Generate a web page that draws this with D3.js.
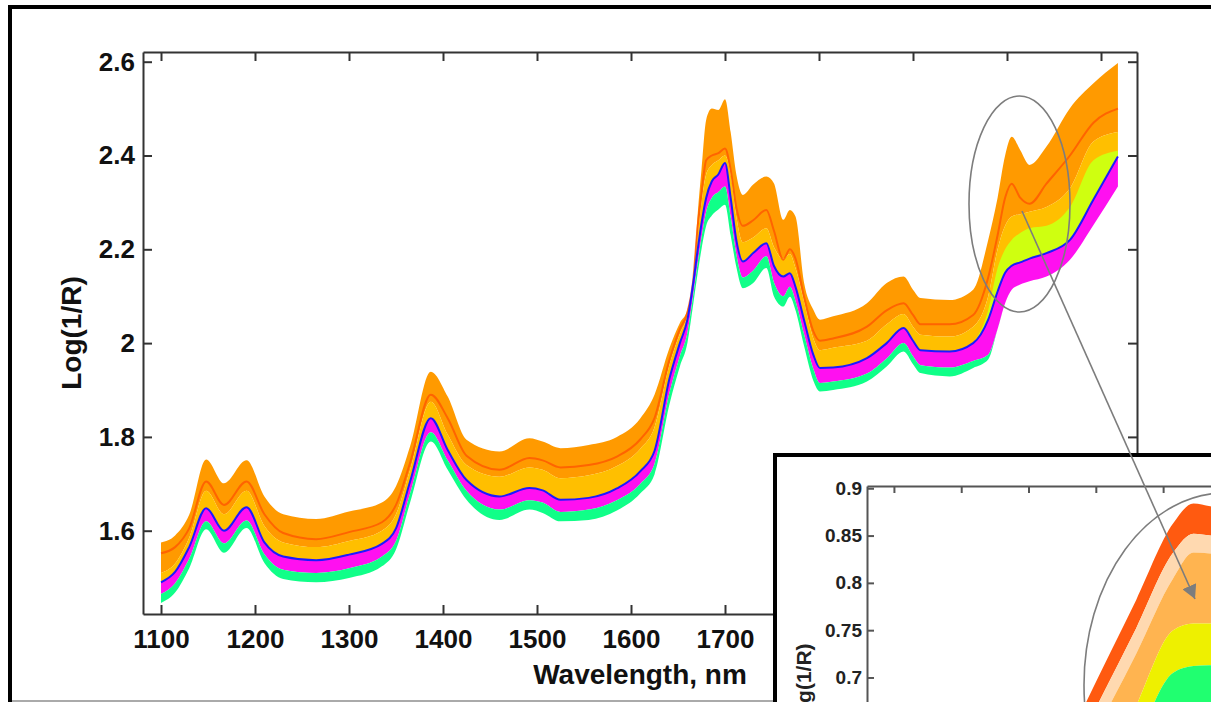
<!DOCTYPE html>
<html>
<head>
<meta charset="utf-8">
<script src="https://cdn.jsdelivr.net/npm/d3@7"></script>
<style>
body{margin:0;background:#fff;}
svg{display:block;font-family:"Liberation Sans",Arial,Helvetica,sans-serif;}
</style>
</head>
<body>
<div class="canvas"></div>
<script>
const wavelengths = [1100,1115,1130,1148,1167,1191,1210,1230,1265,1300,1335,1350,1365,1387,1405,1425,1460,1492,1506,1525,1555,1585,1610,1625,1641,1652,1660,1666,1671,1675,1680,1686,1693,1700,1706,1712,1719,1730,1744,1752,1762,1769,1775,1784,1794,1801,1815,1851,1872,1890,1900,1908,1939,1964,1980,1990,1998,2005,2014,2024,2042,2067,2092,2118];
// upper edge of the orange spectra
const topEdge = [1.575,1.590,1.634,1.752,1.701,1.750,1.673,1.635,1.625,1.641,
	1.660,1.695,1.780,1.939,1.886,1.794,1.769,1.797,1.790,1.776,
	1.783,1.800,1.840,1.890,1.990,2.043,2.071,2.135,2.277,2.370,
	2.476,2.500,2.497,2.520,2.450,2.360,2.316,2.338,2.355,2.341,
	2.263,2.284,2.270,2.130,2.071,2.050,2.057,2.085,2.128,2.142,
	2.114,2.096,2.092,2.114,2.220,2.310,2.400,2.440,2.412,2.380,
	2.419,2.501,2.554,2.597];
// red-orange spectrum running inside the orange group
const redLine = [1.552,1.565,1.605,1.705,1.655,1.705,1.635,1.595,1.582,1.597,
	1.618,1.655,1.745,1.890,1.840,1.760,1.730,1.755,1.750,1.735,
	1.740,1.758,1.795,1.840,1.965,2.030,2.065,2.130,2.250,2.320,
	2.390,2.400,2.405,2.415,2.370,2.290,2.250,2.262,2.284,2.240,
	2.178,2.200,2.180,2.100,2.025,2.005,2.010,2.035,2.070,2.085,
	2.060,2.040,2.040,2.060,2.140,2.230,2.310,2.340,2.310,2.297,
	2.340,2.400,2.470,2.500];
// lower edge of the orange group (gold spectra below)
const orangeLow = [1.510,1.530,1.585,1.685,1.635,1.685,1.610,1.575,1.565,1.578,
	1.600,1.635,1.730,1.875,1.805,1.740,1.715,1.735,1.730,1.712,
	1.718,1.738,1.775,1.820,1.955,2.020,2.060,2.130,2.230,2.300,
	2.360,2.380,2.390,2.400,2.360,2.270,2.215,2.225,2.245,2.205,
	2.180,2.190,2.160,2.090,2.010,1.985,1.990,2.005,2.040,2.062,
	2.035,2.018,2.014,2.035,2.100,2.200,2.250,2.270,2.275,2.280,
	2.290,2.330,2.430,2.450];
// blue spectrum = top of the magenta group
const blueLine = [1.490,1.512,1.565,1.648,1.600,1.650,1.575,1.545,1.537,1.549,
	1.572,1.605,1.705,1.840,1.772,1.708,1.673,1.691,1.686,1.666,
	1.670,1.690,1.727,1.770,1.925,2.000,2.050,2.125,2.200,2.255,
	2.310,2.345,2.360,2.384,2.310,2.220,2.174,2.192,2.213,2.165,
	2.142,2.149,2.120,2.050,1.975,1.947,1.948,1.968,2.000,2.032,
	2.005,1.985,1.982,2.000,2.050,2.110,2.150,2.165,2.172,2.180,
	2.192,2.220,2.306,2.398];
// bottom of the magenta group / top of the green group
const greenTop = [1.465,1.488,1.540,1.620,1.573,1.622,1.550,1.517,1.510,1.520,
	1.545,1.578,1.680,1.810,1.750,1.685,1.645,1.665,1.660,1.640,
	1.645,1.665,1.700,1.742,1.895,1.972,2.022,2.100,2.172,2.225,
	2.280,2.310,2.322,2.334,2.270,2.190,2.140,2.155,2.185,2.130,
	2.100,2.120,2.090,2.020,1.945,1.915,1.918,1.935,1.967,2.000,
	1.972,1.953,1.948,1.962,1.975,2.030,2.085,2.114,2.125,2.132,
	2.142,2.178,2.252,2.334];
// lowest spectrum
const bottomEdge = [1.446,1.468,1.520,1.603,1.553,1.606,1.531,1.497,1.490,1.499,
	1.524,1.560,1.660,1.790,1.730,1.666,1.623,1.645,1.638,1.620,
	1.623,1.643,1.680,1.720,1.870,1.950,2.000,2.080,2.150,2.200,
	2.250,2.272,2.285,2.295,2.230,2.163,2.117,2.128,2.160,2.100,
	2.078,2.099,2.070,1.995,1.920,1.897,1.900,1.918,1.950,1.982,
	1.955,1.936,1.929,1.947,1.965,2.030,2.085,2.114,2.125,2.132,
	2.142,2.178,2.252,2.334];
// yellow-green spectra that only split off past ~1960 nm
const chartNm = [1964,1980,1990,1998,2005,2014,2024,2042,2067,2092,2118];
const chartTop = [2.000,2.070,2.160,2.200,2.220,2.235,2.245,2.250,2.290,2.390,2.410];
const chartLow = [2.000,2.050,2.110,2.150,2.165,2.172,2.180,2.192,2.220,2.306,2.398];

const xTickValues = [1100,1200,1300,1400,1500,1600,1700,1800,1900,2000,2100];
const yTickValues = [1.6,1.8,2,2.2,2.4,2.6];

// inset (zoom on the 2005 nm peak)
const insetNm = [1999,2001,2001.7,2003.2,2004.3,2004.9,2005.4,2006];
const insetRedTop = [0.500,0.620,0.673,0.782,0.863,0.884,0.881,0.875];
const insetRedLow = [0.470,0.590,0.645,0.752,0.832,0.852,0.850,0.846];
const insetOrangeTop = [0.450,0.565,0.620,0.725,0.805,0.832,0.831,0.828];
const insetYellowTop = [0.380,0.490,0.550,0.670,0.750,0.757,0.757,0.755];
const insetGreenTop = [0.340,0.450,0.510,0.630,0.705,0.712,0.713,0.710];
const insetBottom = [0.280,0.380,0.430,0.530,0.620,0.640,0.640,0.640];
const insetXTicks = [1996,1998,2000,2002,2004,2006,2008,2010];
const insetYTicks = [0.9,0.85,0.8,0.75,0.7];

const W = 1211, H = 702;
const m = {l:143, t:52, r:1137, b:614};

var svg = d3.select('.canvas').append('svg')
	.attr('width',W)
	.attr('height',H);

var defs = svg.append('defs');
defs.append('clipPath').attr('id','mainClip')
	.append('rect').attr('x',m.l).attr('y',m.t).attr('width',m.r-m.l).attr('height',m.b-m.t);

// outer frame
svg.append('path')
	.attr('d',`M10,${H} L10,7 L${W},7`)
	.attr('fill','none').attr('stroke','#000').attr('stroke-width',4);

var x = d3.scaleLinear().domain([1080.85,2138.3]).range([m.l,m.r]);
var y = d3.scaleLinear().domain([1.4224,2.6207]).range([m.b,m.t]);

var rows = wavelengths.map((nm,i)=>({
	nm:nm, top:topEdge[i], red:redLine[i], oLow:orangeLow[i],
	blue:blueLine[i], gTop:greenTop[i], bot:bottomEdge[i]
}));
var chartRows = chartNm.map((nm,i)=>({nm:nm, hi:chartTop[i], lo:chartLow[i]}));

function band(xs,ys,hi,lo){
	return d3.area()
		.x(d=>xs(d.nm))
		.y0(d=>ys(d[lo]))
		.y1(d=>ys(d[hi]))
		.curve(d3.curveMonotoneX);
}
function edge(xs,ys,key){
	return d3.line()
		.x(d=>xs(d.nm))
		.y(d=>ys(d[key]))
		.curve(d3.curveMonotoneX);
}

var plot = svg.append('g').attr('clip-path','url(#mainClip)');
plot.append('path').datum(rows).attr('d',band(x,y,'top','oLow')).attr('fill','#ff9a00');
plot.append('path').datum(rows).attr('d',band(x,y,'oLow','blue')).attr('fill','#ffbf00');
plot.append('path').datum(chartRows).attr('d',band(x,y,'hi','lo')).attr('fill','#cfff10');
plot.append('path').datum(rows).attr('d',band(x,y,'blue','gTop')).attr('fill','#ff10f0');
plot.append('path').datum(rows).attr('d',band(x,y,'gTop','bot')).attr('fill','#10ff88');
plot.append('path').datum(rows).attr('d',edge(x,y,'red'))
	.attr('fill','none').attr('stroke','#ff5200').attr('stroke-width',2).attr('opacity',0.75);
plot.append('path').datum(rows).attr('d',edge(x,y,'blue'))
	.attr('fill','none').attr('stroke','#1a1aff').attr('stroke-width',2);

// axes, matlab style box with inward ticks
var axColor = '#333';
function styleAxis(g){
	g.select('.domain').attr('stroke',axColor).attr('stroke-width',2);
	g.selectAll('.tick line').attr('stroke',axColor).attr('stroke-width',2);
	g.selectAll('.tick text').attr('fill','#111').style('font-weight','bold');
}
svg.append('g').attr('transform',`translate(0,${m.b})`)
	.call(d3.axisBottom(x).tickValues(xTickValues).tickSize(-9).tickSizeOuter(0).tickPadding(16).tickFormat(d3.format('d')))
	.call(styleAxis)
	.selectAll('text').style('font-size','26px');
svg.append('g').attr('transform',`translate(0,${m.t})`)
	.call(d3.axisTop(x).tickValues(xTickValues).tickSize(-9).tickSizeOuter(0).tickFormat(''))
	.call(styleAxis);
svg.append('g').attr('transform',`translate(${m.l},0)`)
	.call(d3.axisLeft(y).tickValues(yTickValues).tickSize(-9).tickSizeOuter(0).tickPadding(8).tickFormat(d3.format('~g')))
	.call(styleAxis)
	.selectAll('text').style('font-size','26px');
svg.append('g').attr('transform',`translate(${m.r},0)`)
	.call(d3.axisRight(y).tickValues(yTickValues).tickSize(-9).tickSizeOuter(0).tickFormat(''))
	.call(styleAxis);

svg.append('text')
	.attr('x',(m.l+m.r)/2).attr('y',684)
	.attr('text-anchor','middle')
	.style('font-size','28px').style('font-weight','bold').attr('fill','#111')
	.text('Wavelength, nm');
svg.append('text')
	.attr('transform',`translate(81,${(m.t+m.b)/2}) rotate(-90)`)
	.attr('text-anchor','middle')
	.style('font-size','28px').style('font-weight','bold').attr('fill','#111')
	.text('Log(1/R)');

// highlight around the 2005 nm peak
svg.append('ellipse')
	.attr('cx',1019.5).attr('cy',204).attr('rx',50.5).attr('ry',108)
	.attr('fill','none').attr('stroke','#7d7d7d').attr('stroke-width',1.6);

// grey bottom edge of the screenshot
svg.append('line')
	.attr('x1',12).attr('x2',776).attr('y1',701).attr('y2',701)
	.attr('stroke','#aaa').attr('stroke-width',2);

// ---------- inset ----------
var im = {l:867, t:486};
var xi = d3.scaleLinear().domain([1995.2,2010]).range([im.l, im.l+14.8*33.65]);
var yi = d3.scaleLinear().domain([0.4,0.9024]).range([im.t+0.5024*946, im.t]);

svg.append('rect')
	.attr('x',775).attr('y',455).attr('width',600).attr('height',400)
	.attr('fill','#fff').attr('stroke','#000').attr('stroke-width',4);

defs.append('clipPath').attr('id','insetClip')
	.append('rect').attr('x',im.l).attr('y',im.t).attr('width',600).attr('height',400);

var insetRows = insetNm.map((nm,i)=>({
	nm:nm, rTop:insetRedTop[i], rLow:insetRedLow[i], oTop:insetOrangeTop[i],
	yTop:insetYellowTop[i], gTop:insetGreenTop[i], bot:insetBottom[i]
}));
var inset = svg.append('g').attr('clip-path','url(#insetClip)');
inset.append('path').datum(insetRows).attr('d',band(xi,yi,'rTop','rLow')).attr('fill','#ff5a10');
inset.append('path').datum(insetRows).attr('d',band(xi,yi,'rLow','oTop')).attr('fill','#ffd9b0');
inset.append('path').datum(insetRows).attr('d',band(xi,yi,'oTop','yTop')).attr('fill','#ffb450');
inset.append('path').datum(insetRows).attr('d',band(xi,yi,'yTop','gTop')).attr('fill','#eef000');
inset.append('path').datum(insetRows).attr('d',band(xi,yi,'gTop','bot')).attr('fill','#20ff70');

var inColor = '#555';
function styleInset(g){
	g.select('.domain').attr('stroke',inColor).attr('stroke-width',2);
	g.selectAll('.tick line').attr('stroke',inColor).attr('stroke-width',2);
	g.selectAll('.tick text').attr('fill','#222').style('font-weight','bold').style('font-size','19px');
}
svg.append('g').attr('transform',`translate(0,${im.t})`)
	.call(d3.axisTop(xi).tickValues(insetXTicks).tickSize(-7).tickSizeOuter(0).tickFormat(''))
	.call(styleInset);
svg.append('g').attr('transform',`translate(${im.l},0)`)
	.call(d3.axisLeft(yi).tickValues(insetYTicks).tickSize(-7).tickSizeOuter(0).tickPadding(5).tickFormat(d3.format('~g')))
	.call(styleInset);
svg.append('text')
	.attr('transform','translate(811,686) rotate(-90)')
	.attr('text-anchor','middle')
	.style('font-size','21px').style('font-weight','bold').attr('fill','#222')
	.text('Log(1/R)');

svg.append('ellipse')
	.attr('cx',1225).attr('cy',685).attr('rx',141).attr('ry',192)
	.attr('fill','none').attr('stroke','#7d7d7d').attr('stroke-width',1.6);

// arrow from the main ellipse into the inset
defs.append('marker').attr('id','arrowHead')
	.attr('markerUnits','userSpaceOnUse')
	.attr('markerWidth',15).attr('markerHeight',15)
	.attr('refX',14).attr('refY',7.5)
	.attr('orient','auto')
	.append('path').attr('d','M0,0 L14,7.5 L0,15 Z').attr('fill','#7d7d7d');
svg.append('line')
	.attr('x1',1022).attr('y1',211).attr('x2',1195).attr('y2',599)
	.attr('stroke','#7d7d7d').attr('stroke-width',1.6)
	.attr('marker-end','url(#arrowHead)');
</script>
</body>
</html>
